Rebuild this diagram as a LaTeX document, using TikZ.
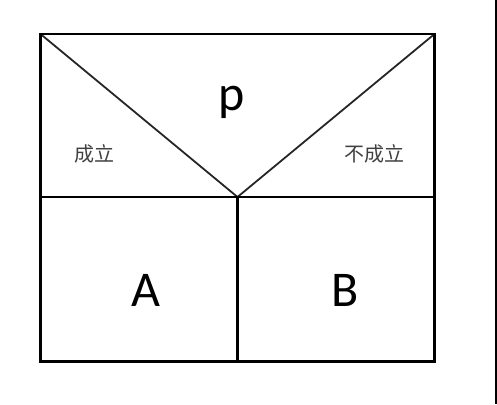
\documentclass[tikz,border=0pt]{standalone}
\usepackage{fontspec}
\setmainfont{Carlito}
\newfontfamily\cjk{Noto Sans CJK SC}
\begin{document}
\begin{tikzpicture}[x=1pt,y=-1pt,
  frame/.style={line width=2.2pt,black},
  diag/.style={line width=1.8pt,black!85},
  big/.style={font=\fontsize{50}{50}\selectfont,inner sep=0pt,anchor=base},
  cn/.style={font=\cjk\fontsize{20}{20}\selectfont,text=black!75,inner sep=0pt}]
\useasboundingbox (0,0) rectangle (497,404);
\coordinate (tl) at (40.5,34);
\coordinate (tr) at (434.5,34);
\coordinate (ml) at (40.5,197);
\coordinate (mr) at (434.5,197);
\coordinate (bl) at (40.5,361.5);
\coordinate (br) at (434.5,361.5);
\coordinate (apex) at (237.5,197);
\coordinate (bm) at (237.5,361.5);
\draw[diag] (tl) -- (apex) -- (tr);
\draw[frame] (tl) rectangle (br);
\draw[frame] (ml) -- (mr);
\draw[frame] (apex) -- (bm);
\draw[line width=1.4pt] (496,0) -- (496,404);
\node[big] (p) at (231.5,110) {p};
\node[big] (A) at (146,306.5) {A};
\node[big] (B) at (345.5,306.5) {B};
\node[cn] (yes) at (94,154) {成立};
\node[cn] (no) at (374,154) {不成立};
\end{tikzpicture}
\end{document}
